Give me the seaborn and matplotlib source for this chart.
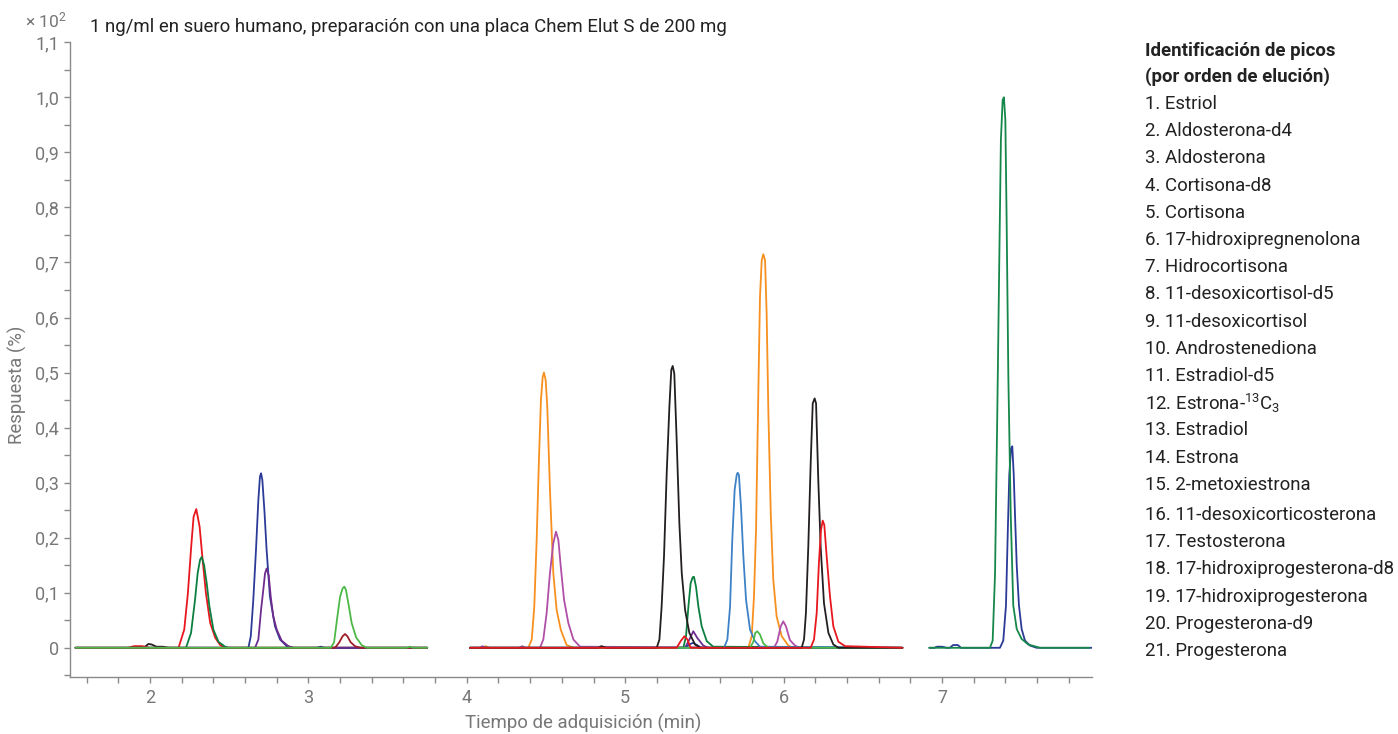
import pandas as pd
import matplotlib.pyplot as plt
from matplotlib.ticker import MultipleLocator, FuncFormatter
import seaborn as sns

sns.set_theme(style="ticks")
plt.rcParams["font.family"] = ["Roboto", "DejaVu Sans"]
plt.rcParams["mathtext.default"] = "regular"

# ---- traces (time in min, response x10^2 %) ----
# segment 1 (about 1.53 - 3.75 min)
black_1_t = [1.53, 1.96, 1.99, 2.01, 2.04, 2.08, 2.12, 3.75]
black_1_v = [0, 0, 0.007, 0.006, 0.002, 0.002, 0, 0]

red_1_t = [1.53, 1.86, 1.90, 1.95, 2.00, 2.180, 2.216, 2.239, 2.260, 2.275, 2.292,
           2.313, 2.332, 2.353, 2.380, 2.412, 2.443, 2.475, 2.55, 3.75]
red_1_v = [0, 0, 0.003, 0.003, 0, 0, 0.033, 0.099, 0.184, 0.238, 0.252,
           0.220, 0.160, 0.099, 0.045, 0.018, 0.005, 0, 0, 0]

green_1_t = [1.53, 2.227, 2.259, 2.284, 2.301, 2.316, 2.326, 2.341, 2.358, 2.375,
             2.400, 2.432, 2.474, 2.495, 3.75]
green_1_v = [0, 0, 0.027, 0.087, 0.136, 0.160, 0.165, 0.151, 0.117, 0.075,
             0.033, 0.011, 0.002, 0, 0]

navy_1_t = [1.53, 2.621, 2.636, 2.652, 2.669, 2.684, 2.694, 2.701, 2.709, 2.722,
            2.736, 2.757, 2.789, 2.821, 2.863, 2.905, 3.05, 3.08, 3.10, 3.75]
navy_1_v = [0, 0, 0.021, 0.087, 0.178, 0.269, 0.311, 0.317, 0.305, 0.250,
            0.178, 0.093, 0.039, 0.015, 0.003, 0, 0, 0.002, 0, 0]

purple_1_t = [1.53, 2.663, 2.684, 2.701, 2.715, 2.726, 2.736, 2.749, 2.762, 2.778,
              2.800, 2.831, 2.873, 2.905, 3.75]
purple_1_v = [0, 0, 0.015, 0.069, 0.105, 0.135, 0.144, 0.132, 0.093, 0.057,
              0.033, 0.013, 0.003, 0, 0]

darkred_1_t = [1.53, 3.168, 3.195, 3.216, 3.231, 3.246, 3.267, 3.294, 3.326, 3.75]
darkred_1_v = [0, 0, 0.010, 0.021, 0.025, 0.021, 0.010, 0.003, 0, 0]

lightgreen_1_t = [1.53, 3.141, 3.162, 3.183, 3.200, 3.216, 3.227, 3.237, 3.252,
                  3.273, 3.301, 3.336, 3.368, 3.62, 3.64, 3.66, 3.75]
lightgreen_1_v = [0, 0, 0.010, 0.057, 0.093, 0.108, 0.111, 0.105, 0.081,
                  0.045, 0.019, 0.005, 0, 0, 0.002, 0, 0]

# segment 2 (about 4.02 - 6.75 min)
orange_2_t = [4.02, 4.10, 4.12, 4.14, 4.388, 4.410, 4.426, 4.441, 4.456, 4.468,
              4.479, 4.487, 4.498, 4.508, 4.525, 4.546, 4.567, 4.593, 4.630, 4.673,
              5.777, 5.799, 5.813, 5.826, 5.840, 5.851, 5.862, 5.872, 5.883, 5.893,
              5.904, 5.919, 5.935, 5.956, 5.988, 6.030, 6.061, 6.75]
orange_2_v = [0, 0, 0.003, 0, 0, 0.015, 0.075, 0.196, 0.347, 0.450,
              0.492, 0.500, 0.486, 0.438, 0.287, 0.136, 0.069, 0.033, 0.005, 0,
              0, 0.021, 0.093, 0.214, 0.456, 0.638, 0.704, 0.715, 0.704, 0.607,
              0.426, 0.244, 0.123, 0.057, 0.021, 0.004, 0, 0]

magenta_2_t = [4.02, 4.08, 4.10, 4.12, 4.33, 4.35, 4.37, 4.462, 4.483, 4.504,
               4.525, 4.546, 4.563, 4.578, 4.593, 4.614, 4.641, 4.673, 4.715,
               5.939, 5.960, 5.982, 5.998, 6.015, 6.040, 6.072, 6.104, 6.75]
magenta_2_v = [0, 0, 0.003, 0, 0, 0.003, 0, 0, 0.015, 0.063,
               0.136, 0.190, 0.211, 0.196, 0.148, 0.087, 0.045, 0.015, 0.002,
               0, 0.011, 0.039, 0.048, 0.039, 0.014, 0.004, 0, 0]

black_2_t = [4.02, 4.83, 4.85, 4.88, 5.199, 5.216, 5.230, 5.245, 5.262, 5.279,
             5.291, 5.300, 5.310, 5.325, 5.342, 5.357, 5.378, 5.405, 5.441, 5.472,
             6.114, 6.129, 6.141, 6.156, 6.171, 6.184, 6.196, 6.205, 6.219, 6.234,
             6.255, 6.283, 6.314, 6.346, 6.75]
black_2_v = [0, 0, 0.003, 0, 0, 0.015, 0.075, 0.166, 0.317, 0.438,
             0.505, 0.512, 0.498, 0.377, 0.226, 0.136, 0.069, 0.027, 0.006, 0,
             0, 0.015, 0.063, 0.184, 0.335, 0.444, 0.453, 0.444, 0.305, 0.184,
             0.081, 0.027, 0.006, 0, 0]

purple_2_t = [4.02, 5.378, 5.405, 5.430, 5.455, 5.493, 5.525, 6.75]
purple_2_v = [0, 0, 0.015, 0.030, 0.018, 0.004, 0, 0]

navy_2_t = [4.02, 5.378, 5.405, 5.428, 5.447, 5.483, 6.75]
navy_2_v = [0, 0, 0.006, 0.009, 0.006, 0, 0]

green_2_t = [4.02, 5.367, 5.384, 5.399, 5.413, 5.426, 5.434, 5.447, 5.462, 5.483,
             5.515, 5.556, 6.75]
green_2_v = [0, 0, 0.021, 0.075, 0.117, 0.128, 0.129, 0.111, 0.075, 0.039,
             0.012, 0.002, 0]

lightblue_2_t = [4.02, 5.624, 5.645, 5.662, 5.676, 5.691, 5.704, 5.710, 5.718,
                 5.731, 5.746, 5.763, 5.788, 5.819, 5.851, 6.75]
lightblue_2_v = [0, 0, 0.015, 0.075, 0.196, 0.287, 0.314, 0.318, 0.314,
                 0.256, 0.166, 0.087, 0.033, 0.012, 0.002, 0]

lightgreen_2_t = [4.02, 5.788, 5.809, 5.821, 5.834, 5.851, 5.872, 5.904, 6.75]
lightgreen_2_v = [0, 0, 0.011, 0.027, 0.030, 0.024, 0.008, 0, 0]

red_2_t = [4.02, 5.325, 5.350, 5.374, 5.393, 5.413, 6.171, 6.192, 6.209, 6.223,
           6.236, 6.247, 6.257, 6.272, 6.293, 6.314, 6.346, 6.388, 6.75]
red_2_v = [0, 0, 0.012, 0.021, 0.015, 0, 0, 0.015, 0.063, 0.154,
           0.214, 0.231, 0.223, 0.166, 0.093, 0.039, 0.011, 0.003, 0]

# segment 3 (about 6.92 - 7.95 min)
green_3_t = [6.92, 7.303, 7.320, 7.335, 7.349, 7.362, 7.372, 7.383, 7.391, 7.400,
             7.408, 7.419, 7.434, 7.450, 7.472, 7.503, 7.545, 7.619, 7.93]
green_3_v = [0, 0, 0.013, 0.135, 0.422, 0.708, 0.923, 0.995, 1.000, 0.959,
             0.780, 0.493, 0.242, 0.077, 0.034, 0.016, 0.006, 0, 0]

navy_3_t = [6.92, 6.95, 6.97, 7.00, 7.03, 7.05, 7.07, 7.10, 7.12, 7.366, 7.387,
            7.404, 7.415, 7.425, 7.436, 7.444, 7.453, 7.461, 7.472, 7.486, 7.503,
            7.524, 7.556, 7.598, 7.95]
navy_3_v = [0, 0, 0.002, 0.002, 0, 0, 0.005, 0.005, 0, 0, 0.013,
            0.077, 0.206, 0.314, 0.362, 0.366, 0.314, 0.242, 0.149, 0.077, 0.034,
            0.013, 0.004, 0, 0]

peak_names = [
    "1. Estriol", "2. Aldosterona-d4", "3. Aldosterona", "4. Cortisona-d8",
    "5. Cortisona", "6. 17-hidroxipregnenolona", "7. Hidrocortisona",
    "8. 11-desoxicortisol-d5", "9. 11-desoxicortisol", "10. Androstenediona",
    "11. Estradiol-d5", "12. Estrona-$^{13}$C$_3$", "13. Estradiol", "14. Estrona",
    "15. 2-metoxiestrona", "16. 11-desoxicorticosterona", "17. Testosterona",
    "18. 17-hidroxiprogesterona-d8", "19. 17-hidroxiprogesterona",
    "20. Progesterona-d9", "21. Progesterona",
]

traces = [
    ("black_1", black_1_t, black_1_v, "#231f20"),
    ("red_1", red_1_t, red_1_v, "#e8161d"),
    ("green_1", green_1_t, green_1_v, "#0a7f3f"),
    ("navy_1", navy_1_t, navy_1_v, "#2b3a96"),
    ("purple_1", purple_1_t, purple_1_v, "#6d2c8e"),
    ("darkred_1", darkred_1_t, darkred_1_v, "#a01d26"),
    ("lightgreen_1", lightgreen_1_t, lightgreen_1_v, "#4db848"),
    ("orange_2", orange_2_t, orange_2_v, "#f7901e"),
    ("magenta_2", magenta_2_t, magenta_2_v, "#b04fa8"),
    ("purple_2", purple_2_t, purple_2_v, "#6d2c8e"),
    ("navy_2", navy_2_t, navy_2_v, "#2b3a96"),
    ("green_2", green_2_t, green_2_v, "#0a7f3f"),
    ("lightblue_2", lightblue_2_t, lightblue_2_v, "#3d82c6"),
    ("lightgreen_2", lightgreen_2_t, lightgreen_2_v, "#4db848"),
    ("black_2", black_2_t, black_2_v, "#231f20"),
    ("red_2", red_2_t, red_2_v, "#e8161d"),
    ("navy_3", navy_3_t, navy_3_v, "#2b3a96"),
    ("green_3", green_3_t, green_3_v, "#16874a"),
]

df = pd.concat(
    [pd.DataFrame({"trace": name, "time": t, "response": v}) for name, t, v, _ in traces],
    ignore_index=True,
)
palette = {name: color for name, _, _, color in traces}

fig = plt.figure(figsize=(13.98, 7.34), dpi=100)
ax = fig.add_axes([0.0501, 0.0777, 0.7310, 0.8651])

sns.lineplot(
    data=df, x="time", y="response", hue="trace", palette=palette,
    sort=False, estimator=None, legend=False, linewidth=1.3, ax=ax,
)

ax.set_xlim(1.495, 7.947)
ax.set_ylim(-0.053, 1.1005)
ax.set_xlabel("")
ax.set_ylabel("")

ax.xaxis.set_major_locator(MultipleLocator(1))
ax.xaxis.set_minor_locator(MultipleLocator(0.2))
ax.yaxis.set_major_locator(MultipleLocator(0.1))
ax.yaxis.set_minor_locator(MultipleLocator(0.05))
ax.yaxis.set_major_formatter(
    FuncFormatter(lambda v, _: "0" if abs(v) < 1e-9 else f"{v:.1f}".replace(".", ","))
)
ax.tick_params(which="both", direction="out", length=4.5, width=1, color="#8a8a8a",
               labelcolor="#777777", labelsize=13)
ax.tick_params(axis="x", pad=4)

sns.despine(ax=ax)
for side in ["left", "bottom"]:
    ax.spines[side].set_color("#8a8a8a")
    ax.spines[side].set_linewidth(1)

fig.text(0.0122, 0.4755, "Respuesta (%)", rotation=90, ha="center", va="center",
         color="#777777", fontsize=13.4)
fig.text(0.417, 0.014, "Tiempo de adquisición (min)", ha="center", va="center",
         color="#777777", fontsize=13.4)
fig.text(0.0644, 0.963,
         "1 ng/ml en suero humano, preparación con una placa Chem Elut S de 200 mg",
         ha="left", va="center", color="#222222", fontsize=13.4)
fig.text(0.0179, 0.972, "× 10$^2$", ha="left", va="center", color="#777777", fontsize=12.5)

# peak identification list on the right
x_leg = 1145 / 1398
fig.text(x_leg, 1 - 51 / 734, "Identificación de picos", ha="left", va="center",
         fontsize=13.4, fontweight="bold", color="#222222")
fig.text(x_leg, 1 - 77 / 734, "(por orden de elución)", ha="left", va="center",
         fontsize=13.4, fontweight="bold", color="#222222")
for i, name in enumerate(peak_names):
    y_px = 104 + 27.2 * i + (3 if i >= 15 else 0)
    fig.text(x_leg, 1 - y_px / 734, name, ha="left", va="center",
             fontsize=13.4, color="#222222")

fig.savefig("out.png", dpi=100)
